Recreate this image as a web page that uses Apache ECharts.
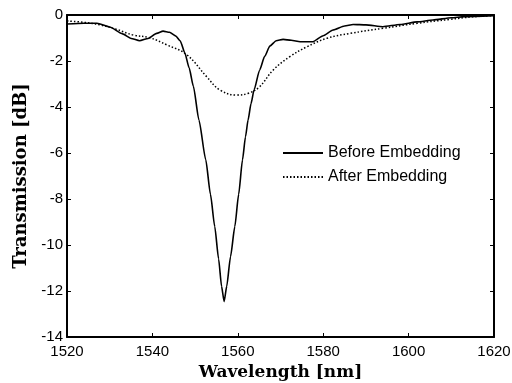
<!DOCTYPE html>
<html>
<head>
<meta charset="utf-8">
<script src="https://cdn.jsdelivr.net/npm/echarts@6/dist/echarts.min.js"></script>
<style>
  html, body { margin: 0; padding: 0; background: #fff; }
  #chart { width: 512px; height: 383px; }
</style>
</head>
<body>
<div id="chart"></div>
<script>
// Transmission spectra of the grating, before and after embedding
const beforeWavelength = [1520, 1524, 1527, 1530, 1533, 1535, 1537, 1539, 1541, 1542.5, 1544, 1545.5, 1546.5, 1547.6, 1548.6, 1549.6, 1550.9, 1552.5, 1553.6, 1554.6, 1555.5, 1556.2, 1556.8, 1557.4, 1558.3, 1559.3, 1560.2, 1561.1, 1561.8, 1562.4, 1563.1, 1563.8, 1565.1, 1566.3, 1567.5, 1569, 1570.6, 1572.5, 1574.6, 1577.6, 1580, 1582.3, 1585, 1587, 1590, 1594, 1598, 1602, 1605.7, 1610, 1613, 1620];
const beforeDb = [-0.39, -0.36, -0.36, -0.52, -0.82, -1.02, -1.12, -1.02, -0.8, -0.7, -0.75, -0.92, -1.12, -1.65, -2.3, -3.1, -4.57, -6.3, -7.8, -9.2, -10.6, -11.8, -12.46, -11.8, -10.5, -9.2, -7.8, -6.3, -5.3, -4.57, -3.85, -3.26, -2.4, -1.8, -1.35, -1.12, -1.06, -1.1, -1.16, -1.16, -0.9, -0.65, -0.48, -0.41, -0.43, -0.51, -0.41, -0.3, -0.22, -0.12, -0.07, -0.03];

const afterWavelength = [1520, 1524, 1527.7, 1531.5, 1535.5, 1539.4, 1543.4, 1548, 1552.7, 1555.8, 1559.8, 1562.5, 1565, 1568.3, 1572.2, 1576.2, 1580.9, 1586.3, 1594, 1602, 1609.7, 1615, 1620];
const afterDb = [-0.26, -0.32, -0.43, -0.62, -0.87, -0.99, -1.3, -1.72, -2.68, -3.26, -3.48, -3.4, -3.14, -2.39, -1.81, -1.38, -1.01, -0.8, -0.58, -0.36, -0.19, -0.08, -0.03];

const xTicks = [1520, 1540, 1560, 1580, 1600, 1620];
const yTicks = [0, -2, -4, -6, -8, -10, -12, -14];

const pairs = (xs, ys) => xs.map((x, i) => [x, ys[i]]);

const chart = echarts.init(document.getElementById('chart'));

const sans = 'Liberation Sans, Arial, sans-serif';
const serif = 'DejaVu Serif, Liberation Serif, serif';
const tickFont = { fontFamily: sans, fontSize: 15, color: '#000' };

const baseX = {
  type: 'value', min: 1520, max: 1620, interval: 20,
  axisLine: { show: true, onZero: false, lineStyle: { color: '#000', width: 2 } },
  axisTick: { show: true, inside: true, length: 4, lineStyle: { color: '#000', width: 1 } },
  splitLine: { show: false }
};
const baseY = {
  type: 'value', min: -14, max: 0, interval: 2,
  axisLine: { show: true, onZero: false, lineStyle: { color: '#000', width: 2 } },
  axisTick: { show: true, inside: true, length: 4, lineStyle: { color: '#000', width: 1 } },
  splitLine: { show: false }
};

chart.setOption({
  animation: false,
  backgroundColor: '#fff',
  grid: { left: 67, right: 18, top: 15, bottom: 46, containLabel: false, outerBoundsMode: 'none' },
  legend: {
    left: 277, top: 140, orient: 'vertical',
    itemWidth: 40, itemHeight: 10, itemGap: 8,
    itemStyle: { opacity: 0 },
    textStyle: { fontFamily: sans, fontSize: 16, color: '#000' },
    data: ['Before Embedding', 'After Embedding']
  },
  xAxis: [
    Object.assign({}, baseX, {
      position: 'bottom',
      name: 'Wavelength [nm]', nameLocation: 'middle', nameGap: 27,
      nameTextStyle: { fontFamily: serif, fontSize: 17, fontWeight: 'bold', color: '#000' },
      axisLabel: Object.assign({ margin: 7, formatter: v => xTicks.includes(v) ? String(v) : '' }, tickFont)
    }),
    Object.assign({}, baseX, { position: 'top', axisLabel: { show: false } })
  ],
  yAxis: [
    Object.assign({}, baseY, {
      position: 'left',
      name: 'Transmission [dB]', nameLocation: 'middle', nameGap: 34,
      nameTextStyle: { fontFamily: serif, fontSize: 18, fontWeight: 'bold', color: '#000' },
      axisLabel: Object.assign({ margin: 4, formatter: v => yTicks.includes(v) ? String(v) : '' }, tickFont)
    }),
    Object.assign({}, baseY, { position: 'right', axisLabel: { show: false } })
  ],
  series: [
    {
      name: 'Before Embedding', type: 'line', showSymbol: false, symbol: 'none',
      smooth: 0.2, smoothMonotone: 'x', data: pairs(beforeWavelength, beforeDb),
      lineStyle: { color: '#000', width: 1.6 }, itemStyle: { color: '#000' }
    },
    {
      name: 'After Embedding', type: 'line', showSymbol: false, symbol: 'none',
      smooth: 0.4, data: pairs(afterWavelength, afterDb),
      lineStyle: { color: '#000', width: 1.5, type: [1.5, 2] }, itemStyle: { color: '#000' }
    }
  ]
});
</script>
</body>
</html>
